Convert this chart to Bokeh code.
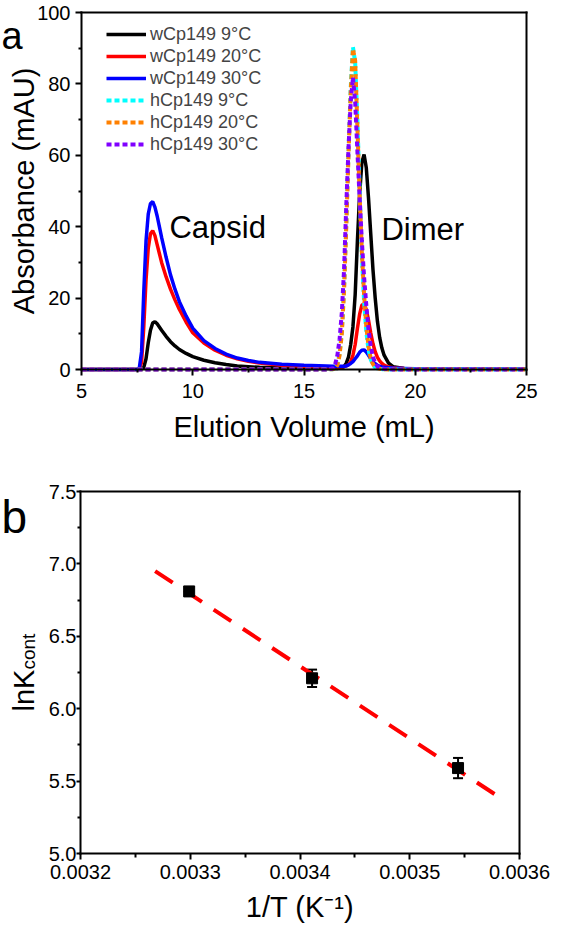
import math
from bokeh.plotting import figure
from bokeh.models import (Range1d, FixedTicker, Legend, LegendItem, Label, LinearAxis,
                          Whisker, TeeHead, ColumnDataSource, PrintfTickFormatter)
from bokeh.layouts import column
from bokeh.embed import file_html
from bokeh.resources import INLINE

FONT = "Liberation Sans"

# ---------------- panel a data ----------------
a_xlim = (5, 25)
a_ylim = (0, 100)
a_xticks = [5, 10, 15, 20, 25]
a_xminor = [7.5, 12.5, 17.5, 22.5]
a_yticks = [0, 20, 40, 60, 80, 100]
a_yminor = [10, 30, 50, 70, 90]

elution_ml = [5.0, 7.5, 7.6, 7.7, 7.8, 7.9, 8.0, 8.1, 8.2, 8.3,
              8.4, 8.5, 8.6, 8.8, 9.0, 9.2, 9.4, 9.7, 10.0, 10.5,
              11.0, 11.5, 12.0, 12.5, 13.0, 14.0, 15.0, 16.0, 16.3, 16.4,
              16.5, 16.6, 16.7, 16.8, 16.9, 17.0, 17.1, 17.2, 17.3, 17.4,
              17.5, 17.6, 17.7, 17.8, 17.9, 18.0, 18.1, 18.2, 18.3, 18.4,
              18.5, 18.6, 18.8, 19.0, 19.5, 20.0, 25.0]

w_9C = [0, 0, 0, 0.1, 0.6, 3.0, 7.5, 11.0, 13.0, 13.4,
        12.8, 11.9, 11.0, 9.3, 7.8, 6.6, 5.6, 4.5, 3.6, 2.6,
        1.9, 1.4, 1.0, 0.8, 0.6, 0.4, 0.3, 0.3, 0.3, 0.3,
        0.3, 0.4, 0.5, 0.8, 1.8, 3.5, 7.0, 12.0, 21.0, 36.0,
        49.0, 58.0, 60.2, 56.5, 48.0, 38.0, 28.0, 20.0, 13.5, 9.0,
        6.0, 4.0, 1.8, 0.8, 0.3, 0.2, 0.1]

w_20C = [0, 0, 0.2, 2.0, 12.0, 25.0, 34.0, 38.0, 38.9, 37.5,
         35.0, 32.5, 30.0, 26.0, 22.5, 19.5, 16.8, 13.3, 10.3, 7.4,
         5.4, 4.0, 3.0, 2.3, 1.8, 1.2, 0.9, 0.7, 0.7, 0.7,
         0.7, 0.7, 0.7, 0.8, 1.0, 1.3, 2.2, 4.0, 7.0, 11.5,
         15.5, 18.0, 18.4, 16.8, 13.8, 10.2, 7.2, 5.0, 3.4, 2.4,
         1.7, 1.2, 0.7, 0.5, 0.3, 0.2, 0.1]

w_30C = [0, 0, 0.5, 5.0, 22.0, 36.0, 43.5, 46.5, 47.0, 45.5,
         43.0, 40.0, 37.0, 31.5, 26.5, 22.5, 19.0, 15.0, 11.6, 8.1,
         5.9, 4.3, 3.2, 2.5, 2.0, 1.5, 1.2, 1.0, 0.9, 0.9,
         0.9, 0.9, 0.9, 0.9, 1.0, 1.3, 1.7, 2.2, 3.0, 3.8,
         4.8, 5.4, 5.5, 4.9, 4.0, 3.0, 2.2, 1.6, 1.2, 0.9,
         0.7, 0.6, 0.5, 0.4, 0.3, 0.2, 0.1]

h_9C = [0, 0, 0, 0, 0, 0, 0, 0, 0, 0,
        0, 0, 0, 0, 0, 0, 0, 0, 0, 0,
        0, 0, 0, 0, 0, 0, 0, 0, 0.1, 0.4,
        1.5, 4.5, 11.0, 23.0, 41.0, 61.0, 79.0, 90.3, 86.0, 70.0,
        50.0, 32.0, 19.0, 10.5, 5.5, 2.8, 1.3, 0.6, 0.3, 0.2,
        0.1, 0.1, 0, 0, 0, 0, 0]

h_20C = [0, 0, 0, 0, 0, 0, 0, 0, 0, 0,
         0, 0, 0, 0, 0, 0, 0, 0, 0, 0,
         0, 0, 0, 0, 0, 0, 0, 0, 0.1, 0.3,
         1.2, 4.0, 10.0, 22.0, 40.0, 60.0, 78.0, 89.8, 86.5, 68.0,
         49.0, 33.0, 21.0, 12.0, 6.5, 3.0, 1.5, 0.7, 0.4, 0.2,
         0.1, 0.1, 0, 0, 0, 0, 0]

h_30C = [0, 0, 0, 0, 0, 0, 0, 0, 0, 0,
         0, 0, 0, 0, 0, 0, 0, 0, 0, 0,
         0, 0, 0, 0, 0, 0, 0, 0, 0.3, 1.5,
         4.0, 8.5, 16.0, 28.0, 46.0, 62.0, 75.0, 81.8, 75.0, 61.0,
         48.0, 36.0, 26.0, 18.0, 11.0, 6.5, 3.5, 1.8, 0.9, 0.5,
         0.3, 0.2, 0.1, 0, 0, 0, 0]

series_names = ["wCp149 9°C", "wCp149 20°C", "wCp149 30°C",
                "hCp149 9°C", "hCp149 20°C", "hCp149 30°C"]
series_values = [w_9C, w_20C, w_30C, h_9C, h_20C, h_30C]
series_colors = ["#000000", "#ff0000", "#0000ff", "#00ffff", "#ff8000", "#8000ff"]
series_dashed = [False, False, False, True, True, True]

# ---------------- panel b data ----------------
b_xlim = (0.0032, 0.0036)
b_ylim = (5.0, 7.5)
inv_T = [0.003299, 0.003411, 0.003544]
lnK = [6.81, 6.21, 5.59]
lnK_err = [0.03, 0.06, 0.07]
fit_x = [0.003268, 0.003582]
fit_y = [6.95, 5.387]
b_xticks = [0.0032, 0.0033, 0.0034, 0.0035, 0.0036]
b_xminor = [0.00325, 0.00335, 0.00345, 0.00355]
b_yticks = [5.0, 5.5, 6.0, 6.5, 7.0, 7.5]
b_yminor = [5.25, 5.75, 6.25, 6.75, 7.25]


def make_panel(W, H, box, xlim, ylim):
    """Figure whose frame fills the canvas; the data box sits at pixel rect `box`."""
    L, R, T, B = box
    sx = (xlim[1] - xlim[0]) / (R - L)
    sy = (ylim[1] - ylim[0]) / (B - T)
    p = figure(width=W, height=H,
               x_range=Range1d(xlim[0] - L * sx, xlim[1] + (W - R) * sx),
               y_range=Range1d(ylim[0] - (H - B) * sy, ylim[1] + T * sy),
               x_axis_location=None, y_axis_location=None,
               output_backend="svg", toolbar_location=None, min_border=0)
    p.min_border_left = p.min_border_right = p.min_border_top = p.min_border_bottom = 0
    p.title.visible = False
    p.grid.visible = False
    p.outline_line_color = None
    p.background_fill_color = "white"
    p.border_fill_color = "white"
    return p


def std_axis(ax, tick_font):
    ax.axis_line_width = 2
    ax.axis_line_color = "black"
    ax.axis_line_cap = "square"
    ax.major_tick_line_width = 2
    ax.minor_tick_line_width = 2
    ax.major_tick_in = 0
    ax.major_tick_out = 6
    ax.minor_tick_in = 0
    ax.minor_tick_out = 3
    ax.major_label_text_font = FONT
    ax.major_label_text_font_size = tick_font
    ax.major_label_text_color = "black"
    ax.axis_label_text_font = FONT
    ax.axis_label_text_font_size = "29px"
    ax.axis_label_text_font_style = "normal"
    ax.axis_label_text_color = "black"
    return ax


def box_axes(p, xlim, ylim):
    top = LinearAxis(fixed_location=ylim[1], bounds=xlim, ticker=FixedTicker(ticks=[]))
    right = LinearAxis(fixed_location=xlim[1], bounds=ylim, ticker=FixedTicker(ticks=[]))
    for ax in (top, right):
        std_axis(ax, "0px")
        ax.major_tick_out = 0
        ax.minor_tick_out = 0
    p.add_layout(top, "above")
    p.add_layout(right, "right")


# ---------------- panel a ----------------
pa = make_panel(550, 462, (81, 526, 12, 369), a_xlim, a_ylim)
xa = std_axis(LinearAxis(fixed_location=a_ylim[0], bounds=a_xlim,
                         ticker=FixedTicker(ticks=a_xticks, minor_ticks=a_xminor)), "20px")
xa.axis_label = "Elution Volume (mL)"
xa.major_label_standoff = 8
xa.axis_label_standoff = 10
ya = std_axis(LinearAxis(fixed_location=a_xlim[0], bounds=a_ylim,
                         ticker=FixedTicker(ticks=a_yticks, minor_ticks=a_yminor)), "20px")
ya.major_label_standoff = 5
pa.add_layout(xa, "below")
pa.add_layout(ya, "left")
box_axes(pa, a_xlim, a_ylim)

items = []
for name, vals, col, dashed in zip(series_names, series_values, series_colors, series_dashed):
    if dashed:
        r = pa.line(elution_ml, vals, line_color=col, line_width=4, line_dash="5 3")
    else:
        r = pa.line(elution_ml, vals, line_color=col, line_width=3.5)
    items.append(LegendItem(label=name, renderers=[r]))

legend = Legend(items=items, location=(106, 307), glyph_width=40, glyph_height=22,
                label_height=22, spacing=0, padding=0, margin=0, label_standoff=4,
                label_text_font=FONT, label_text_font_size="18px",
                border_line_color=None, background_fill_alpha=0)
pa.add_layout(legend)

# y axis title of panel a (rotated, placed left of the tick labels)
pa.add_layout(Label(x=a_xlim[0], y=(a_ylim[0] + a_ylim[1]) / 2, x_offset=-58,
                    text="Absorbance (mAU)", angle=math.pi / 2, text_align="center",
                    text_baseline="alphabetic", text_font=FONT, text_font_size="29px",
                    text_color="black"))
pa.add_layout(Label(x=8.95, y=39.7, text="Capsid", text_font=FONT, text_font_size="31px",
                    text_baseline="alphabetic", text_color="black"))
pa.add_layout(Label(x=18.48, y=39.2, text="Dimer", text_font=FONT, text_font_size="31px",
                    text_baseline="alphabetic", text_color="black"))
pa.add_layout(Label(x=a_xlim[0], y=a_ylim[1], x_offset=-80, y_offset=-23, text="a",
                    text_font=FONT, text_font_size="38px",
                    text_baseline="alphabetic", text_color="black"))

# ---------------- panel b ----------------
pb = make_panel(550, 466, (80, 519, 29, 391), b_xlim, b_ylim)
xb = std_axis(LinearAxis(fixed_location=b_ylim[0], bounds=b_xlim,
                         ticker=FixedTicker(ticks=b_xticks, minor_ticks=b_xminor),
                         formatter=PrintfTickFormatter(format="%.4f")), "20px")
xb.axis_label = "1/T (K\u207b\u00b9)"
xb.major_label_standoff = 5
xb.axis_label_standoff = 9
xb.minor_tick_out = 4
yb = std_axis(LinearAxis(fixed_location=b_xlim[0], bounds=b_ylim,
                         ticker=FixedTicker(ticks=b_yticks, minor_ticks=b_yminor),
                         formatter=PrintfTickFormatter(format="%.1f")), "20px")
yb.major_tick_out = 4
yb.minor_tick_out = 3
yb.major_label_standoff = 0
pb.add_layout(xb, "below")
pb.add_layout(yb, "left")
box_axes(pb, b_xlim, b_ylim)

pb.line(fit_x, fit_y, line_color="#ff0000", line_width=4, line_dash="21 14")
src = ColumnDataSource(dict(x=inv_T, y=lnK,
                            upper=[v + e for v, e in zip(lnK, lnK_err)],
                            lower=[v - e for v, e in zip(lnK, lnK_err)]))
pb.add_layout(Whisker(source=src, base="x", upper="upper", lower="lower", dimension="height",
                      line_width=2, line_color="black",
                      upper_head=TeeHead(size=10, line_width=2, line_color="black"),
                      lower_head=TeeHead(size=10, line_width=2, line_color="black")))
pb.scatter("x", "y", source=src, marker="square", size=11, color="black")

pb.add_layout(Label(x=b_xlim[0], y=6.27, x_offset=-57, text="lnK", angle=math.pi / 2,
                    text_align="right", text_baseline="alphabetic", text_font=FONT,
                    text_font_size="29px", text_color="black"))
pb.add_layout(Label(x=b_xlim[0], y=6.27, x_offset=-52, text="cont", angle=math.pi / 2,
                    text_align="left", text_baseline="alphabetic", text_font=FONT,
                    text_font_size="19px", text_color="black"))
pb.add_layout(Label(x=b_xlim[0], y=b_ylim[1], x_offset=-79, y_offset=-25, text="b",
                    text_font=FONT, text_font_size="46px",
                    text_baseline="alphabetic", text_color="black"))

layout = column(pa, pb, spacing=0)
open("out.html", "w").write(file_html(layout, INLINE))
